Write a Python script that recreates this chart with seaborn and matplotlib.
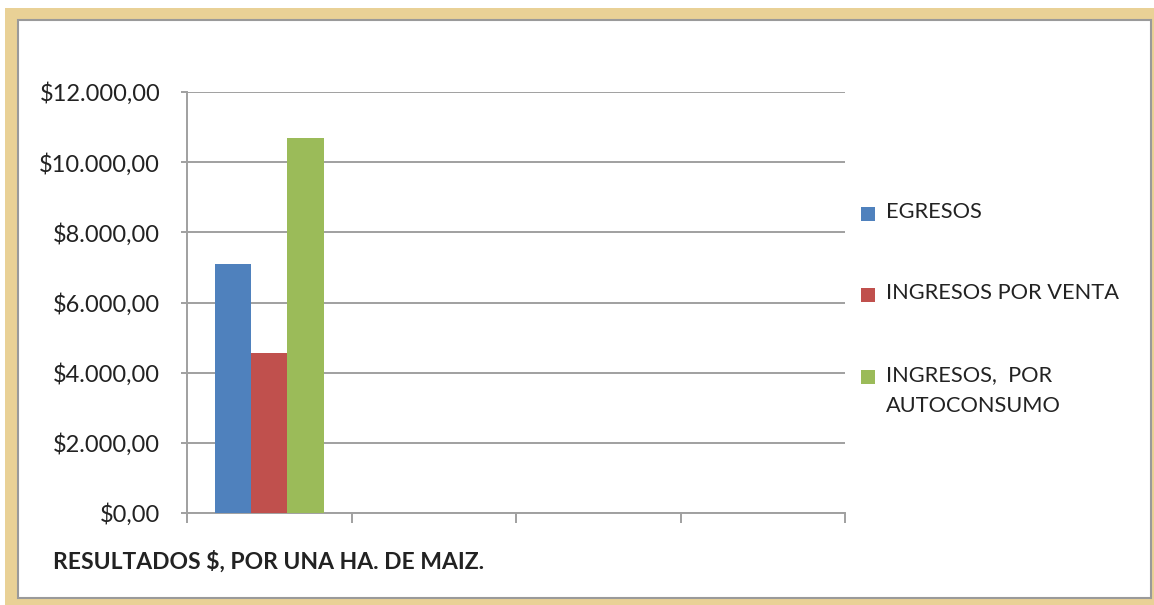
import matplotlib
matplotlib.use("Agg")
import matplotlib.pyplot as plt
import matplotlib.patches as mpatches
import matplotlib.ticker as mticker
import seaborn as sns
import pandas as pd
import numpy as np

# Data (only the first category has values)
categories = ["C1", "C2", "C3", "C4"]
series = ["EGRESOS", "INGRESOS POR VENTA", "INGRESOS,  POR\nAUTOCONSUMO"]
egresos = [7100, np.nan, np.nan, np.nan]
ingresos_venta = [4550, np.nan, np.nan, np.nan]
ingresos_autoconsumo = [10680, np.nan, np.nan, np.nan]
colors = ["#4F81BD", "#C0504D", "#9BBB59"]
y_ticks = [0, 2000, 4000, 6000, 8000, 10000, 12000]
x_title = "RESULTADOS $, POR UNA HA. DE MAIZ."


def fmt_money(v, pos=None):
    s = f"{v:,.2f}"
    s = s.replace(",", "X").replace(".", ",").replace("X", ".")
    return "$" + s


# Build long dataframe for seaborn
rows = []
for name, vals in zip(series, [egresos, ingresos_venta, ingresos_autoconsumo]):
    for cat, v in zip(categories, vals):
        rows.append({"cat": cat, "serie": name, "valor": v})
df = pd.DataFrame(rows)

sns.set_style("white")
plt.rcParams['font.family'] = ['Lato', 'DejaVu Sans']

fig = plt.figure(figsize=(11.54, 6.05), dpi=100)
fig.patch.set_facecolor("white")

# Parchment-like frame and white panel
W, H = 1154, 605
fig.patches.append(mpatches.Rectangle((5 / W, 0), 1 - 5 / W, 1 - 8 / H,
                                      transform=fig.transFigure, facecolor="#E9D196",
                                      edgecolor="none", zorder=-2))
fig.patches.append(mpatches.Rectangle((18 / W, 1 - 598 / H), (1151 - 18) / W, (598 - 20) / H,
                                      transform=fig.transFigure, facecolor="white",
                                      edgecolor="#9A9A9A", linewidth=1.5, zorder=-1))

ax = fig.add_axes([187 / W, 1 - 513 / H, (845 - 187) / W, (513 - 92) / H])
ax.set_zorder(1)
ax.set_facecolor("none")

sns.barplot(data=df, x="cat", y="valor", hue="serie", palette=colors,
            width=0.665, saturation=1, linewidth=0, ax=ax, legend=False, zorder=3)

ax.set_xlim(-0.5, 3.5)
ax.set_ylim(0, 12000)
ax.set_yticks(y_ticks)
ax.yaxis.set_major_formatter(mticker.FuncFormatter(fmt_money))
ax.grid(axis="y", color="#A0A0A0", linewidth=1.4, zorder=0)
ax.set_axisbelow(True)

# category boundary ticks, no labels
ax.set_xticks([-0.5, 0.5, 1.5, 2.5, 3.5])
ax.set_xticklabels([])
ax.tick_params(axis="x", bottom=True, length=7, width=1.4, color="#A0A0A0", direction="out")
ax.tick_params(axis="y", left=True, length=4.3, width=1.4, color="#A0A0A0", labelsize=17,
               labelcolor="#222222", pad=15)
ax.set_xlabel("")
ax.set_ylabel("")

for side in ["top", "right"]:
    ax.spines[side].set_visible(False)
for side in ["left", "bottom"]:
    ax.spines[side].set_color("#A0A0A0")
    ax.spines[side].set_linewidth(1.4)

# Legend drawn at the right, marker aligned with first line of text
leg_y = [214, 295, 377]
for name, col, yy in zip(series, colors, leg_y):
    fig.patches.append(mpatches.Rectangle((861 / W, 1 - (yy + 7) / H), 14 / W, 14 / H,
                                          transform=fig.transFigure, facecolor=col,
                                          edgecolor="none", zorder=2))
    fig.text(886 / W, 1 - (yy - 12) / H, name, fontsize=15.7, color="#222222",
             va="top", ha="left", linespacing=1.7)

fig.text(53 / W, 1 - 562 / H, x_title, fontsize=16.5, fontweight="bold",
         color="#222222", va="center", ha="left")

fig.savefig("out.png", dpi=100)
